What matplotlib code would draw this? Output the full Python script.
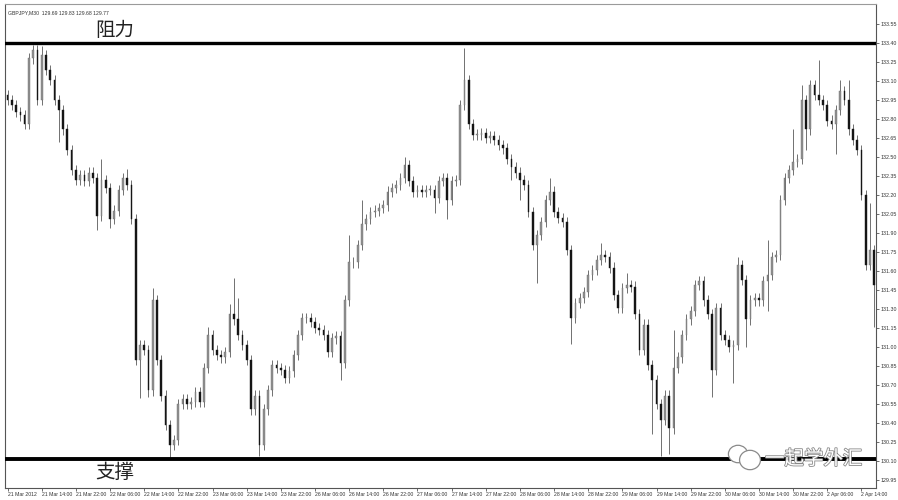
import matplotlib
matplotlib.use('Agg')
import matplotlib.pyplot as plt
import numpy as np
from matplotlib import patheffects as pe
from matplotlib.patches import Ellipse

# ---------------- data ----------------
header_text = "GBPJPY,M30  129.69 129.83 129.68 129.77"

first_open = 132.99
closes = [
    132.95, 132.91, 132.86, 132.83, 132.76, 133.28, 133.35, 132.95, 133.31, 133.19,
    133.11, 132.95, 132.87, 132.72, 132.56, 132.40, 132.32, 132.36, 132.31, 132.38,
    132.34, 132.04, 132.32, 132.26, 132.01, 132.08, 132.24, 132.34, 132.28, 132.01,
    130.90, 131.02, 130.98, 130.66, 131.37, 130.90, 130.62, 130.39, 130.23, 130.27,
    130.55, 130.59, 130.55, 130.57, 130.65, 130.57, 130.84, 131.10, 130.98, 130.94,
    130.92, 130.96, 131.26, 131.22, 131.10, 131.02, 130.90, 130.51, 130.62, 130.23,
    130.51, 130.66, 130.86, 130.84, 130.82, 130.76, 130.81, 130.94, 131.10, 131.23,
    131.23, 131.20, 131.15, 131.14, 131.10, 130.96, 131.07, 131.09, 130.88, 131.37,
    131.67, 131.67, 131.81, 131.97, 132.01, 132.07, 132.08, 132.10, 132.12, 132.23,
    132.26, 132.28, 132.34, 132.44, 132.31, 132.23, 132.24, 132.23, 132.24, 132.24,
    132.18, 132.31, 132.34, 132.16, 132.31, 132.32, 132.91, 133.11, 132.76, 132.68,
    132.68, 132.69, 132.65, 132.67, 132.64, 132.60, 132.57, 132.49, 132.42, 132.38,
    132.32, 132.28, 132.07, 131.81, 131.89, 131.99, 132.16, 132.23, 132.07, 132.02,
    131.99, 131.77, 131.23, 131.35, 131.39, 131.44, 131.57, 131.61, 131.69, 131.73,
    131.71, 131.63, 131.41, 131.31, 131.47, 131.49, 131.48, 131.26, 130.98, 131.18,
    130.86, 130.74, 130.55, 130.43, 130.62, 130.36, 130.84, 130.92, 131.10, 131.22,
    131.29, 131.49, 131.52, 131.37, 131.26, 130.82, 131.31, 131.10, 131.06, 131.00,
    131.02, 131.65, 131.53, 131.22, 131.37, 131.39, 131.37, 131.52, 131.57, 131.71,
    131.73, 132.16, 132.34, 132.40, 132.46, 132.49, 132.95, 132.72, 133.07, 132.99,
    132.95, 132.91, 132.79, 132.76, 132.87, 133.02, 132.95, 132.72, 132.64, 132.56,
    132.20, 131.65, 131.77, 131.49,
]

upper_wicks = [
    0.04, 0.04, 0.04, 0.04, 0.04, 0.04, 0.04, 0.04, 0.07, 0.04,
    0.04, 0.04, 0.04, 0.04, 0.04, 0.04, 0.04, 0.04, 0.04, 0.04,
    0.04, 0.04, 0.17, 0.04, 0.04, 0.04, 0.04, 0.04, 0.07, 0.04,
    0.04, 0.04, 0.04, 0.04, 0.10, 0.04, 0.04, 0.04, 0.04, 0.04,
    0.04, 0.04, 0.04, 0.04, 0.04, 0.04, 0.04, 0.06, 0.04, 0.04,
    0.04, 0.04, 0.08, 0.29, 0.17, 0.04, 0.04, 0.04, 0.04, 0.04,
    0.04, 0.04, 0.04, 0.04, 0.04, 0.04, 0.04, 0.04, 0.04, 0.04,
    0.04, 0.04, 0.04, 0.04, 0.04, 0.04, 0.04, 0.04, 0.04, 0.04,
    0.22, 0.04, 0.04, 0.19, 0.04, 0.04, 0.04, 0.04, 0.04, 0.04,
    0.04, 0.04, 0.04, 0.06, 0.04, 0.04, 0.04, 0.04, 0.04, 0.04,
    0.04, 0.04, 0.04, 0.04, 0.04, 0.04, 0.04, 0.25, 0.04, 0.04,
    0.04, 0.04, 0.04, 0.04, 0.04, 0.04, 0.04, 0.04, 0.04, 0.04,
    0.04, 0.04, 0.04, 0.04, 0.04, 0.04, 0.04, 0.11, 0.04, 0.04,
    0.04, 0.04, 0.04, 0.04, 0.04, 0.04, 0.04, 0.04, 0.04, 0.09,
    0.04, 0.04, 0.04, 0.04, 0.04, 0.10, 0.04, 0.04, 0.04, 0.04,
    0.04, 0.04, 0.04, 0.04, 0.04, 0.04, 0.30, 0.04, 0.04, 0.04,
    0.04, 0.04, 0.04, 0.04, 0.04, 0.04, 0.04, 0.04, 0.04, 0.04,
    0.04, 0.06, 0.04, 0.04, 0.04, 0.04, 0.04, 0.04, 0.28, 0.04,
    0.04, 0.04, 0.04, 0.04, 0.26, 0.04, 0.12, 0.04, 0.04, 0.04,
    0.28, 0.04, 0.04, 0.04, 0.04, 0.09, 0.04, 0.16, 0.04, 0.04,
    0.04, 0.04, 0.37, 0.04,
]

lower_wicks = [
    0.04, 0.04, 0.04, 0.04, 0.04, 0.04, 0.04, 0.04, 0.04, 0.04,
    0.04, 0.04, 0.25, 0.04, 0.04, 0.04, 0.04, 0.04, 0.04, 0.04,
    0.04, 0.11, 0.04, 0.04, 0.07, 0.04, 0.04, 0.04, 0.04, 0.04,
    0.04, 0.30, 0.04, 0.05, 0.04, 0.04, 0.04, 0.04, 0.10, 0.04,
    0.04, 0.04, 0.04, 0.04, 0.04, 0.04, 0.04, 0.04, 0.04, 0.04,
    0.04, 0.04, 0.04, 0.04, 0.04, 0.04, 0.04, 0.04, 0.04, 0.09,
    0.04, 0.04, 0.04, 0.04, 0.04, 0.04, 0.04, 0.04, 0.04, 0.04,
    0.04, 0.04, 0.04, 0.04, 0.04, 0.04, 0.04, 0.04, 0.14, 0.04,
    0.04, 0.04, 0.04, 0.04, 0.04, 0.04, 0.04, 0.04, 0.04, 0.04,
    0.04, 0.04, 0.04, 0.04, 0.04, 0.04, 0.04, 0.04, 0.04, 0.04,
    0.12, 0.04, 0.04, 0.15, 0.04, 0.04, 0.04, 0.04, 0.04, 0.04,
    0.04, 0.04, 0.04, 0.04, 0.04, 0.04, 0.04, 0.04, 0.10, 0.04,
    0.16, 0.04, 0.04, 0.04, 0.30, 0.04, 0.04, 0.04, 0.04, 0.04,
    0.04, 0.04, 0.20, 0.04, 0.04, 0.04, 0.04, 0.04, 0.04, 0.04,
    0.04, 0.04, 0.04, 0.04, 0.04, 0.04, 0.04, 0.04, 0.04, 0.04,
    0.04, 0.42, 0.04, 0.29, 0.04, 0.20, 0.04, 0.04, 0.04, 0.04,
    0.04, 0.04, 0.04, 0.04, 0.04, 0.21, 0.04, 0.04, 0.04, 0.04,
    0.28, 0.04, 0.04, 0.22, 0.04, 0.04, 0.04, 0.04, 0.23, 0.04,
    0.04, 0.04, 0.04, 0.04, 0.04, 0.04, 0.04, 0.16, 0.04, 0.04,
    0.04, 0.04, 0.04, 0.04, 0.23, 0.04, 0.04, 0.04, 0.04, 0.04,
    0.04, 0.04, 0.04, 0.33,
]

time_labels = [
    "21 Mar 2012", "21 Mar 14:00", "21 Mar 22:00", "22 Mar 06:00", "22 Mar 14:00",
    "22 Mar 22:00", "23 Mar 06:00", "23 Mar 14:00", "23 Mar 22:00", "26 Mar 06:00",
    "26 Mar 14:00", "26 Mar 22:00", "27 Mar 06:00", "27 Mar 14:00", "27 Mar 22:00",
    "28 Mar 06:00", "28 Mar 14:00", "28 Mar 22:00", "29 Mar 06:00", "29 Mar 14:00",
    "29 Mar 22:00", "30 Mar 06:00", "30 Mar 14:00", "30 Mar 22:00", "2 Apr 06:00",
    "2 Apr 14:00",
]
bars_per_label = 8

price_ticks = [129.95, 130.10, 130.25, 130.40, 130.55, 130.70, 130.85, 131.00,
               131.15, 131.30, 131.45, 131.60, 131.75, 131.90, 132.05, 132.20,
               132.35, 132.50, 132.65, 132.80, 132.95, 133.10, 133.25, 133.40, 133.55]

resistance_level = 133.40
support_level = 130.12
resistance_label = "阻力"
support_label = "支撑"
watermark = "一起学外汇"

# ---------------- build OHLC ----------------
closes_a = np.array(closes)
opens_a = np.array([first_open] + closes[:-1])
highs_a = np.maximum(opens_a, closes_a) + np.array(upper_wicks)
lows_a = np.minimum(opens_a, closes_a) - np.array(lower_wicks)
n = len(closes_a)
x = np.arange(n)

small_font = ['Liberation Sans', 'DejaVu Sans']
cjk_font = ['Noto Sans CJK SC', 'DejaVu Sans']

fig = plt.figure(figsize=(8.98, 5.0), dpi=100)
ax = fig.add_axes([5 / 898, 12 / 500, 871 / 898, 484 / 500])
ax.set_facecolor('white')

# wicks
ax.vlines(x, lows_a, highs_a, color='#707070', linewidth=0.7, zorder=2)
# bodies
bull = closes_a >= opens_a
body_bottom = np.minimum(opens_a, closes_a)
body_height = np.maximum(np.abs(closes_a - opens_a), 0.006)
ax.bar(x[bull], body_height[bull], bottom=body_bottom[bull], width=0.4,
       color='#909090', edgecolor='#707070', linewidth=0.3, zorder=3)
ax.bar(x[~bull], body_height[~bull], bottom=body_bottom[~bull], width=0.4,
       color='#151515', edgecolor='#151515', linewidth=0.3, zorder=3)

# support / resistance
ax.axhline(resistance_level, color='black', linewidth=2.4, zorder=4)
ax.axhline(support_level, color='black', linewidth=2.8, zorder=4)

ax.set_xlim(-0.6, 203.4)
ax.set_ylim(129.89, 133.71)

# axes styling
for s in ax.spines.values():
    s.set_color('#555555')
    s.set_linewidth(0.8)
ax.spines['top'].set_color('#9a9a9a')

ax.yaxis.tick_right()
ax.set_yticks(price_ticks)
ax.set_yticklabels([f"{p:.2f}" for p in price_ticks], fontsize=3.8,
                   family=small_font, color='#333333')
ax.tick_params(axis='y', direction='out', length=2.0, width=0.5, pad=1.0,
               colors='#333333')

tick_pos = [k * bars_per_label for k in range(len(time_labels))]
ax.set_xticks(tick_pos)
ax.set_xticklabels(time_labels, fontsize=3.7, family=small_font, color='#333333')
for lbl in ax.get_xticklabels():
    lbl.set_horizontalalignment('left')
ax.tick_params(axis='x', direction='out', length=2.0, width=0.5, pad=1.0,
               colors='#333333')

# header text
ax.text(0.003, 0.988, header_text, transform=ax.transAxes, fontsize=3.7,
        family=small_font, color='#333333', va='top', ha='left')

# chinese labels
ax.text((95 - 5) / 871, 1 - (31 - 4) / 484, resistance_label, family=cjk_font,
        fontsize=14, fontweight='light', color='#222222', ha='left', va='center',
        transform=ax.transAxes)
ax.text((95 - 5) / 871, 1 - (472 - 4) / 484, support_label, family=cjk_font,
        fontsize=14, fontweight='light', color='#222222', ha='left', va='center',
        transform=ax.transAxes)

# watermark
ax.text((765 - 5) / 871, 1 - (459 - 4) / 484, watermark, family=cjk_font,
        fontsize=14, color='white', ha='left', va='center', transform=ax.transAxes,
        zorder=6, path_effects=[pe.withStroke(linewidth=1.2, foreground='#8a8a8a')])
e1 = Ellipse(((738 - 5) / 871, 1 - (454 - 4) / 484), 0.022, 0.036,
             transform=ax.transAxes, facecolor='white', edgecolor='#8a8a8a',
             linewidth=0.9, zorder=6)
e2 = Ellipse(((750 - 5) / 871, 1 - (460 - 4) / 484), 0.024, 0.04,
             transform=ax.transAxes, facecolor='white', edgecolor='#8a8a8a',
             linewidth=0.9, zorder=6)
ax.add_patch(e1)
ax.add_patch(e2)

fig.savefig('out.png', dpi=100, facecolor='white')
